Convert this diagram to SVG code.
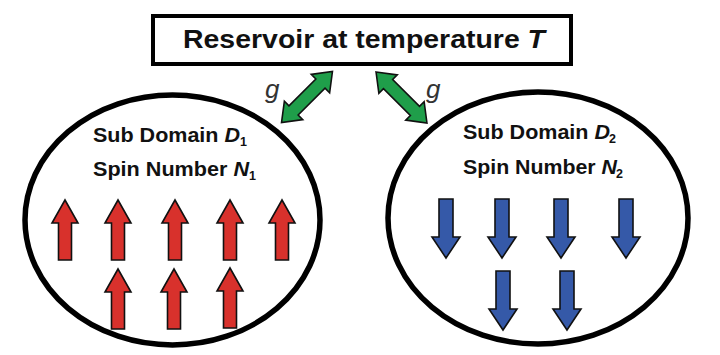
<svg xmlns="http://www.w3.org/2000/svg" width="720" height="355" viewBox="0 0 720 355">
<style>
.dom{fill:#fff;stroke:#000;stroke-width:5.5}
.box{fill:#fff;stroke:#000;stroke-width:4}
.t{font-family:"Liberation Sans",Arial,sans-serif;font-weight:bold;fill:#111}
.g{font-family:"Liberation Sans",Arial,sans-serif;font-style:italic;font-size:26px;fill:#333}
.up{fill:#d8312c;stroke:#111;stroke-width:1.6;stroke-linejoin:miter}
.dn{fill:#3559a8;stroke:#111;stroke-width:1.6;stroke-linejoin:miter}
.ga{fill:#1f9e4a;stroke:#111;stroke-width:1.6;stroke-linejoin:miter}
</style>
<defs>
<path id="uparrow" d="M0 0 L13 23 L6.5 23 L6.5 60 L-6.5 60 L-6.5 23 L-13 23 Z"/>
<path id="dnarrow" d="M-7 0 L7 0 L7 38 L14 38 L0 59 L-14 38 L-7 38 Z"/>
<path id="dbl" d="M-36 0 L-19 -13 L-19 -6.5 L19 -6.5 L19 -13 L36 0 L19 13 L19 6.5 L-19 6.5 L-19 13 Z"/>
</defs>
<rect width="720" height="355" fill="#fff"/>
<g id="reservoir">
<rect class="box" x="153" y="16" width="418" height="48"/>
<text class="t" x="183" y="48" font-size="25" textLength="362" lengthAdjust="spacingAndGlyphs">Reservoir at temperature <tspan font-style="italic">T</tspan></text>
</g>
<g id="domain1">
<ellipse class="dom" cx="172.5" cy="220" rx="147.5" ry="125"/>
<text class="t" x="93" y="142" font-size="19.5" textLength="147" lengthAdjust="spacingAndGlyphs">Sub Domain <tspan font-style="italic">D</tspan></text>
<text class="t" x="240" y="146" font-size="12.5">1</text>
<text class="t" x="93" y="176" font-size="19.5" textLength="156" lengthAdjust="spacingAndGlyphs">Spin Number <tspan font-style="italic">N</tspan></text>
<text class="t" x="249" y="180" font-size="12.5">1</text>
<g id="spins-up">
<use href="#uparrow" class="up" x="65" y="200"/>
<use href="#uparrow" class="up" x="118" y="200"/>
<use href="#uparrow" class="up" x="175" y="200"/>
<use href="#uparrow" class="up" x="230" y="200"/>
<use href="#uparrow" class="up" x="282" y="200"/>
<use href="#uparrow" class="up" x="118" y="269"/>
<use href="#uparrow" class="up" x="174" y="269"/>
<use href="#uparrow" class="up" x="230" y="268"/>
</g>
</g>
<g id="domain2">
<ellipse class="dom" cx="538" cy="218" rx="150" ry="126"/>
<text class="t" x="463" y="139" font-size="19.5" textLength="147" lengthAdjust="spacingAndGlyphs">Sub Domain <tspan font-style="italic">D</tspan></text>
<text class="t" x="609" y="143" font-size="12.5">2</text>
<text class="t" x="463" y="174" font-size="19.5" textLength="154" lengthAdjust="spacingAndGlyphs">Spin Number <tspan font-style="italic">N</tspan></text>
<text class="t" x="616" y="178" font-size="12.5">2</text>
<g id="spins-down">
<use href="#dnarrow" class="dn" x="446" y="199"/>
<use href="#dnarrow" class="dn" x="502" y="199"/>
<use href="#dnarrow" class="dn" x="561" y="199"/>
<use href="#dnarrow" class="dn" x="626" y="199"/>
<use href="#dnarrow" class="dn" x="503" y="271"/>
<use href="#dnarrow" class="dn" x="567" y="271"/>
</g>
</g>
<g id="connectors">
<use href="#dbl" class="ga" transform="translate(307 97) rotate(-45)"/>
<use href="#dbl" class="ga" transform="translate(401.5 97.5) rotate(45)"/>
<text class="g" x="265" y="98">g</text>
<text class="g" x="426" y="98">g</text>
</g>
</svg>
